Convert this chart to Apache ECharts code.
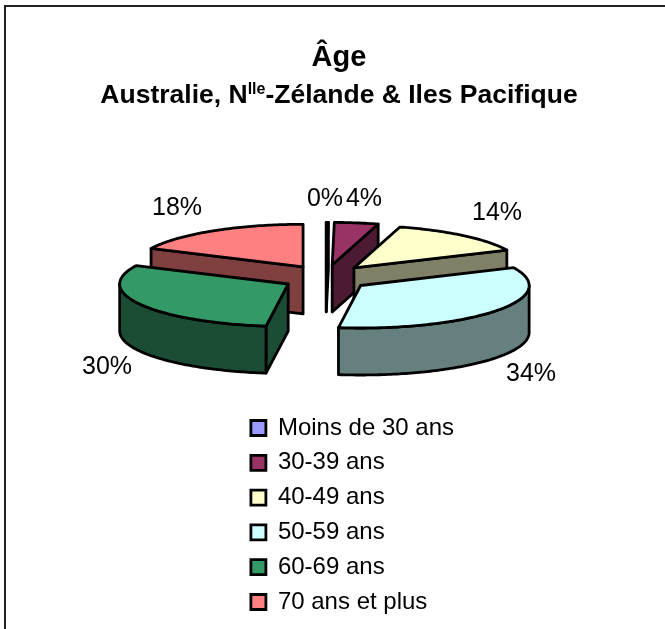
<!DOCTYPE html>
<html><head><meta charset="utf-8">
<style>html,body{margin:0;padding:0;background:#fff}#c{width:665px;height:629px}</style>
<script src="https://cdn.jsdelivr.net/npm/echarts@6/dist/echarts.min.js"></script>
</head><body><div id="c"></div>
<script>
const categories = ['Moins de 30 ans','30-39 ans','40-49 ans','50-59 ans','60-69 ans','70 ans et plus'];
const values = [0.2, 4.2, 13.7, 34, 30, 17.9];
const topColors = ['#9999FF','#993366','#FFFFCC','#CCFFFF','#339966','#FF8080'];
const sideColors = ['#4D4D80','#4D1A33','#808066','#668080','#1A4D33','#804040'];
const paintOrder = [0,1,2,5,4,3];
const labelAnchors = [[325,199],[364,199],[497,213],[531,374],[107,367],[177,208]];

const FONT = '"Liberation Sans", Arial, sans-serif';
const pie = {cx:326, cy:277.8, a:168.5, b:42.5, depth:47, explodeX:43, explodeY:13};
const total = values.reduce((s,v)=>s+v,0);
const RAD = Math.PI/180;
let acc = 0;
const spans = values.map(v=>{const s=acc/total*360; acc+=v; return [s, acc/total*360];});

function renderSlice(i){
  return function(params, api){
    const [s,e] = spans[i];
    const mid = (s+e)/2*RAD;
    const ox = pie.cx + pie.explodeX*Math.sin(mid);
    const oy = pie.cy - pie.explodeY*Math.cos(mid);
    const rim = t => [ox + pie.a*Math.sin(t*RAD), oy - pie.b*Math.cos(t*RAD)];
    const down = p => [p[0], p[1]+pie.depth];
    const arc = (from,to) => {
      const n = Math.max(2, Math.ceil(Math.abs(to-from)));
      const pts = [];
      for(let k=0;k<=n;k++) pts.push(rim(from+(to-from)*k/n));
      return pts;
    };
    const apex = [ox,oy];
    const children = [];
    const face = (pts,fill) => children.push({type:'polygon', shape:{points:pts},
      style:{fill:fill, stroke:'#000', lineWidth:2.8, lineJoin:'round'}});
    const side = sideColors[i], top = topColors[i];
    if(Math.sin(e*RAD) > 0) face([apex, rim(e), down(rim(e)), down(apex)], side);
    if(Math.sin(s*RAD) < 0 || s===0) face([apex, rim(s), down(rim(s)), down(apex)], side);
    const fs = Math.max(s,90), fe = Math.min(e,270);
    if(fe > fs){
      const upper = arc(fs,fe);
      face(upper.concat(upper.slice().reverse().map(down)), side);
    }
    face([apex].concat(arc(s,e)), top);
    const anchor = labelAnchors[i];
    children.push({type:'text', style:{text:Math.round(values[i])+'%', x:anchor[0], y:anchor[1],
      fill:'#000', font:'25px '+FONT, textAlign:'center', textVerticalAlign:'middle'}, z2:100});
    return {type:'group', children:children};
  };
}

const option = {
  animation:false,
  backgroundColor:'#fff',
  title:[
    {text:'Âge', left:339, textAlign:'center', top:43, padding:0,
     textStyle:{fontFamily:FONT,fontWeight:'bold',fontSize:29,color:'#000'}},
    {text:'{m|Australie, N}{s|lle}{m|-Zélande & Iles Pacifique}', left:339, textAlign:'center', top:82, padding:0,
     textStyle:{rich:{
       m:{fontFamily:FONT,fontWeight:'bold',fontSize:26.5,color:'#000'},
       s:{fontFamily:FONT,fontWeight:'bold',fontSize:16,color:'#000',verticalAlign:'top'}
     }}}
  ],
  legend:{
    data:categories, orient:'vertical', left:249.5, top:416, padding:0, icon:'rect',
    itemWidth:15, itemHeight:15, itemGap:10.8,
    itemStyle:{borderColor:'#000',borderWidth:2.8},
    textStyle:{fontFamily:FONT,fontSize:24,color:'#000',lineHeight:24,padding:[0,0,0,7]},
    selectedMode:false
  },
  graphic:[
    {type:'line', shape:{x1:4,y1:6,x2:665,y2:6}, style:{stroke:'#222',lineWidth:2}, silent:true},
    {type:'line', shape:{x1:5,y1:5,x2:5,y2:629}, style:{stroke:'#222',lineWidth:2}, silent:true}
  ],
  series:categories.map((name,i)=>({
    type:'custom', name:name, coordinateSystem:'none', data:[values[i]],
    z:2+paintOrder.indexOf(i), silent:true,
    itemStyle:{color:topColors[i]},
    renderItem:renderSlice(i)
  }))
};
const chart = echarts.init(document.getElementById('c'),null,{renderer:'canvas'});
chart.setOption(option);
</script></body></html>
